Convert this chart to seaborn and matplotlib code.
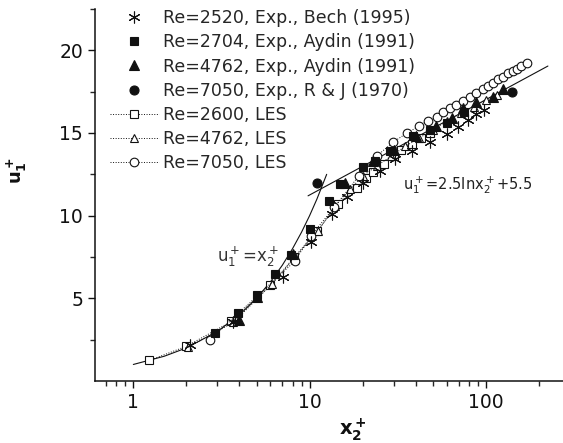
import numpy as np
import pandas as pd
import matplotlib
matplotlib.use("Agg")
import matplotlib.pyplot as plt
import seaborn as sns
from matplotlib.ticker import LogLocator, NullFormatter, FixedLocator

# ---------------- data ----------------
# Exp., Bech (1995), Re=2520
bech_x = [2.1, 3.7, 7.1, 10.2, 13.4, 16.2, 20, 25, 30.5, 38, 48, 60, 69.6, 79, 88, 97]
bech_u = [2.2, 3.55, 6.3, 8.4, 10.1, 11.1, 12.0, 12.7, 13.4, 13.9, 14.45, 14.95, 15.35, 15.8, 16.15, 16.4]

# Exp., Aydin (1991), Re=2704
ay27_x = [2.9, 3.9, 5.0, 6.4, 7.8, 10.0, 12.9, 14.9, 20.2, 23.5, 28.5, 38.6, 48, 60, 75]
ay27_u = [2.9, 4.1, 5.2, 6.5, 7.6, 9.2, 10.9, 11.9, 12.95, 13.3, 13.9, 14.8, 15.2, 15.6, 16.3]

# Exp., Aydin (1991), Re=4762
ay47_x = [4.0, 5.0, 8.0, 15.8, 23, 30, 40, 52, 64, 74, 88, 110, 125]
ay47_u = [3.7, 5.1, 7.7, 12.0, 13.3, 14.0, 14.8, 15.4, 15.9, 16.5, 16.9, 17.2, 17.65]

# Exp., R & J (1970), Re=7050
rj_x = [11.0, 140]
rj_u = [12.0, 17.5]

# LES, Re=2600
les26_x = [1.23, 2.0, 3.6, 6.0, 8.2, 11.0, 14.5, 18.5, 21, 23, 26.5, 30, 33, 38, 43, 48]
les26_u = [1.24, 2.1, 3.6, 5.8, 7.5, 9.05, 10.7, 11.7, 12.25, 12.65, 13.15, 13.6, 14.0, 14.35, 14.7, 15.0]

# LES, Re=4762
les47_x = [2.04, 3.7, 6.1, 8.3, 11.2, 14.0, 17, 20, 24, 29, 35, 42, 50, 60, 72, 86, 100, 115]
les47_u = [2.03, 3.55, 5.85, 7.5, 9.1, 10.6, 11.6, 12.4, 13.0, 13.6, 14.2, 14.7, 15.2, 15.7, 16.2, 16.6, 17.0, 17.3]

# LES, Re=7050
les70_x = [2.72, 8.25, 10.2, 13.8, 19, 24, 29.8, 35.7, 41.5, 47, 52.8, 57.3, 62.6, 68, 74.3,
           81, 88, 96.5, 103, 110, 117, 125, 134, 142, 150, 159, 171]
les70_u = [2.5, 7.25, 8.8, 10.5, 12.4, 13.6, 14.45, 15.0, 15.4, 15.75, 15.99, 16.29, 16.49, 16.7, 16.94,
           17.2, 17.4, 17.65, 17.85, 18.05, 18.25, 18.4, 18.6, 18.76, 18.9, 19.06, 19.22]

# reference laws: u+ = x+ and u+ = 2.5 ln x+ + 5.5
visc_x = [1, 1.5, 2, 3, 4, 5, 6, 7, 8, 9, 10, 11, 12.5]
visc_u = [1, 1.5, 2, 3, 4, 5, 6, 7, 8, 9, 10, 11, 12.5]
log_x = [9.8, 225]
log_u = [11.2, 19.05]

# ---------------- plotting ----------------
sns.set_style("ticks")
plt.rcParams['font.family'] = ['DejaVu Sans']
plt.rcParams['mathtext.fontset'] = 'dejavusans'

fig = plt.figure(figsize=(5.63, 4.43), dpi=100)
ax = fig.add_axes([95 / 563, 62 / 443, 468 / 563, 372 / 443])

ink = '#111111'

sns.lineplot(x=visc_x, y=visc_u, color=ink, lw=0.8, estimator=None, sort=False, ax=ax)
sns.lineplot(x=log_x, y=log_u, color=ink, lw=0.8, estimator=None, sort=False, ax=ax)

les = [
    (les26_x, les26_u, 's', 'Re=2600, LES'),
    (les47_x, les47_u, '^', 'Re=4762, LES'),
    (les70_x, les70_u, 'o', 'Re=7050, LES'),
]
les_handles = []
for xs, us, mk, lab in les:
    sns.lineplot(x=xs, y=us, color=ink, lw=0.7, ls=':', marker=mk, ms=6.2,
                 mfc='white', mec=ink, mew=0.8, estimator=None, sort=False, ax=ax)
    les_handles.append(ax.lines[-1])

exp = [
    (bech_x, bech_u, (6, 2, 0), 8.5, 'Re=2520, Exp., Bech (1995)'),
    (ay27_x, ay27_u, 's', 6.2, 'Re=2704, Exp., Aydin (1991)'),
    (ay47_x, ay47_u, '^', 6.5, 'Re=4762, Exp., Aydin (1991)'),
    (rj_x, rj_u, 'o', 6.5, 'Re=7050, Exp., R & J (1970)'),
]
exp_handles = []
for xs, us, mk, size, lab in exp:
    sns.lineplot(x=xs, y=us, color=ink, ls='none', marker=mk, ms=size,
                 mfc=ink, mec=ink, mew=0.8, estimator=None, sort=False, ax=ax)
    exp_handles.append(ax.lines[-1])

labels = [e[4] for e in exp] + [l[3] for l in les]
handles = exp_handles + les_handles
fig.legend(handles, labels, loc='upper left', bbox_to_anchor=(110 / 563, 1 - 9 / 443),
           frameon=False, fontsize=12.5, handlelength=2.8, handletextpad=0.25,
           labelspacing=0.36, borderpad=0, borderaxespad=0)

ax.set_xscale('log')
ax.set_xlim(0.606, 274)
ax.set_ylim(0, 22.5)

ax.set_yticks([5, 10, 15, 20])
ax.yaxis.set_minor_locator(FixedLocator([2.5, 7.5, 12.5, 17.5, 22.5]))
ax.xaxis.set_major_locator(FixedLocator([1, 10, 100]))
ax.set_xticklabels(['1', '10', '100'])
ax.xaxis.set_minor_locator(LogLocator(base=10, subs=np.arange(2, 10)))
ax.xaxis.set_minor_formatter(NullFormatter())

ax.tick_params(which='major', length=5, width=1, direction='out', labelsize=13.5, colors=ink)
ax.tick_params(which='minor', length=3.5, width=1, direction='out')
for s in ['top', 'right']:
    ax.spines[s].set_visible(False)
for s in ['left', 'bottom']:
    ax.spines[s].set_linewidth(1.1)
    ax.spines[s].set_color(ink)

ax.set_xlabel(r'$\mathbf{x_2^+}$', fontsize=14, color=ink)
ax.set_ylabel(r'$\mathbf{u_1^+}$', fontsize=13, color=ink)
ax.xaxis.set_label_coords(0.55, -0.095)
ax.yaxis.set_label_coords(-0.14, 0.565)

ax.text(3.0, 7.2, r'u$_1^+$=x$_2^+$', fontsize=12, color='#333333')
ax.text(34, 11.6, r'u$_1^+$=2.5lnx$_2^+$+5.5', fontsize=10.5, color='#222222')

fig.savefig('out.png', dpi=100, facecolor='white')
